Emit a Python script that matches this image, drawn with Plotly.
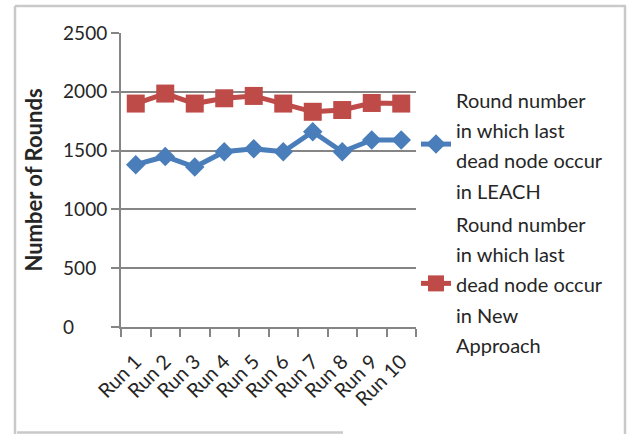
import plotly.graph_objects as go

# Chart data
runs = ["Run 1", "Run 2", "Run 3", "Run 4", "Run 5",
        "Run 6", "Run 7", "Run 8", "Run 9", "Run 10"]
leach_rounds = [1380, 1450, 1360, 1490, 1515, 1490, 1660, 1490, 1590, 1590]
new_rounds = [1900, 1985, 1900, 1945, 1965, 1900, 1830, 1845, 1905, 1900]
y_ticks = [0, 500, 1000, 1500, 2000, 2500]
y_tick_text = ["0\u2007\u2007\u2007", "500\u2007", "1000", "1500", "2000", "2500"]

leach_name = "Round number<br>in which last<br>dead node occur<br>in LEACH"
new_name = "Round number<br>in which last<br>dead node occur<br>in New<br>Approach"

FONT = "Lato, 'Open Sans', sans-serif"
TEXT = "#262626"
GRID = "#858585"
BLUE = "#4a7ebb"
RED = "#be4b48"

W, H = 630, 434
ML, MR, MT, MB = 121, 214, 33, 107
PW, PH = W - ML - MR, H - MT - MB


def px_x(x):
    return (x - ML) / PW


def px_y(y):
    return 1 - (y - MT) / PH


def legend_text(name):
    return '<span style="font-size:20px">' + name + "</span>"


fig = go.Figure()
fig.add_trace(go.Scatter(
    x=runs, y=leach_rounds, name=legend_text(leach_name),
    mode="lines+markers",
    line=dict(color=BLUE, width=5),
    marker=dict(symbol="diamond", size=15, color=BLUE),
))
fig.add_trace(go.Scatter(
    x=runs, y=new_rounds, name=legend_text(new_name),
    mode="lines+markers",
    line=dict(color=RED, width=5),
    marker=dict(symbol="square", size=18, color=RED),
))

# light outer frame of the chart area
frame = dict(type="line", xref="paper", yref="paper",
             line=dict(color="#c9c9c9", width=2.5), layer="below")
fig.add_shape(**frame, x0=px_x(15), x1=px_x(15), y0=px_y(6), y1=px_y(434))
fig.add_shape(**frame, x0=px_x(15), x1=px_x(626), y0=px_y(6), y1=px_y(6))
fig.add_shape(**frame, x0=px_x(625), x1=px_x(625), y0=px_y(6), y1=px_y(434))
fig.add_shape(**frame, x0=px_x(17), x1=px_x(343), y0=px_y(432.5), y1=px_y(432.5))

fig.update_layout(
    width=W, height=H,
    margin=dict(l=ML, r=MR, t=MT, b=MB, pad=0),
    paper_bgcolor="white", plot_bgcolor="white",
    font=dict(family=FONT, color=TEXT),
    showlegend=True,
    legend=dict(
        x=px_x(416), xanchor="left",
        y=px_y(77), yanchor="top",
        font=dict(size=23.3, family=FONT, color=TEXT),
        itemwidth=30, bgcolor="rgba(0,0,0,0)",
        tracegroupgap=0,
    ),
    xaxis=dict(
        type="category", categoryorder="array", categoryarray=runs,
        showline=True, linecolor=GRID, linewidth=2,
        showgrid=False, zeroline=False,
        ticks="outside", tickson="boundaries", ticklen=8,
        tickcolor=GRID, tickwidth=2,
        tickangle=-45, tickfont=dict(size=20, family=FONT, color=TEXT),
        ticklabelstandoff=13,
        range=[-0.5, 9.5],
    ),
    yaxis=dict(
        range=[0, 2500], tickvals=y_ticks, ticktext=y_tick_text,
        showline=True, linecolor=GRID, linewidth=2,
        showgrid=True, gridcolor=GRID, gridwidth=2,
        zeroline=False,
        ticks="outside", ticklen=8, tickcolor=GRID, tickwidth=2,
        tickfont=dict(size=19, family=FONT, color=TEXT),
        title=dict(text="<b>Number of Rounds</b>",
                   font=dict(size=22, family=FONT, color=TEXT),
                   standoff=14),
    ),
)

fig.write_html("out.html")
